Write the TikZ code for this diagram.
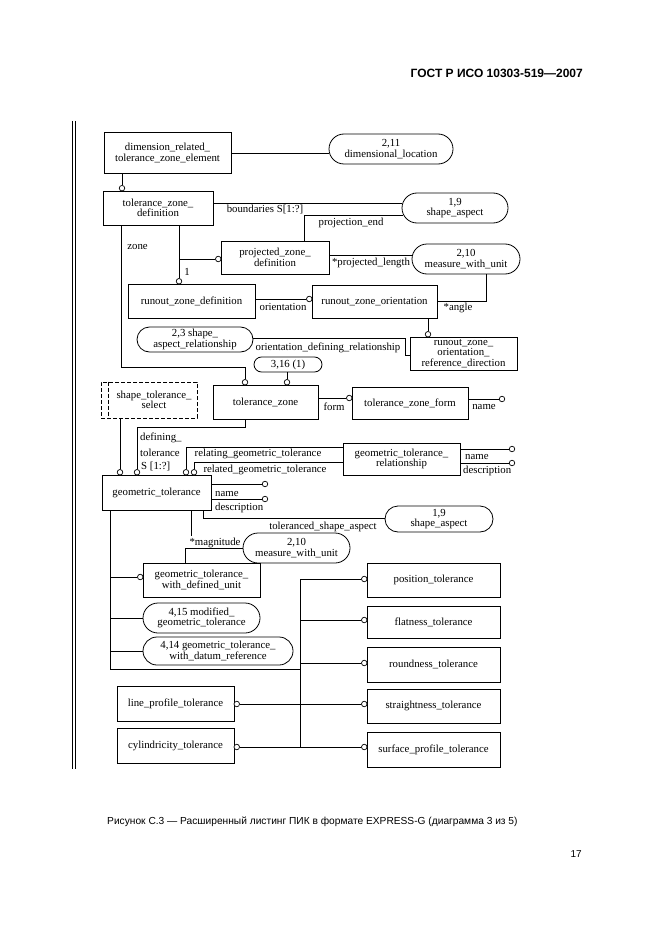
\documentclass[tikz,border=0pt]{standalone}
\usepackage{fontspec}
\setmainfont{Liberation Serif}
\newfontfamily\sansf{Liberation Sans}
\usetikzlibrary{shapes.misc,calc}
\newcommand\dg{\fontsize{10.8}{10.4}\selectfont}
\begin{document}
\begin{tikzpicture}[x=1pt,y=-1pt,
  ent/.style={draw, rectangle, inner sep=0pt, align=center, font=\dg, line width=0.8pt},
  refn/.style={draw, rounded rectangle, inner sep=0pt, align=center, font=\dg, line width=0.8pt},
  oc/.style={draw, circle, fill=white, inner sep=0pt, minimum size=5.5pt, line width=0.7pt},
  lbl/.style={inner sep=0pt, font=\dg},
  lnk/.style={line width=0.75pt},
  dsh/.style={dash pattern=on 4pt off 2pt, line width=0.8pt}]
\useasboundingbox (0,0) rectangle (661,936);
% frame
\draw[line width=0.8pt] (72.5,121) -- (72.5,769);
\draw[line width=0.8pt] (75.8,121) -- (75.8,769);
% header / caption
\node[anchor=east, font=\sansf\bfseries\fontsize{12}{14}\selectfont, inner sep=0pt] (hdr) at (583,73) {ГОСТ Р ИСО 10303-519—2007};
\node[anchor=west, font=\sansf\fontsize{10.2}{12}\selectfont, inner sep=0pt] (cap) at (107,822) {Рисунок С.3 — Расширенный листинг ПИК в формате EXPRESS-G (диаграмма 3 из 5)};
\node[anchor=east, font=\sansf\fontsize{10}{12}\selectfont, inner sep=0pt] (pg) at (582,854) {17};

% top
\node[ent, minimum width=127, minimum height=41] (dre) at (167.5,153) {dimension\_related\_\\tolerance\_zone\_element};
\node[refn, minimum width=124, minimum height=30] (dl) at (391,149) {2,11\\dimensional\_location};
\draw[lnk] (dre.east) -- (dre.east -| dl.west);
\node[oc] (o1) at (122,188.2) {};
\draw[lnk] (dre.south -| o1) -- (o1);

\node[ent, minimum width=110, minimum height=34] (tzd) at (158,208) {tolerance\_zone\_\\definition};
\node[refn, minimum width=106, minimum height=30] (sa1) at (455,208) {1,9\\shape\_aspect};
\draw[lnk] ([yshift=5pt]tzd.east) -- ([yshift=5pt,xshift=0.8pt]tzd.east -| sa1.west);
\node[lbl] (lb1) at (265,209.5) {boundaries S[1:?]};

\node[ent, minimum width=108, minimum height=33] (pzd) at (275,257.5) {projected\_zone\_\\definition};
\draw[lnk] ([xshift=29pt]pzd.north) |- ([yshift=-7pt,xshift=1.7pt]sa1.west);
\node[lbl] (lb2) at (351,223) {projection\_end};

\node[refn, minimum width=108, minimum height=30] (mwu1) at (466,259) {2,10\\measure\_with\_unit};
\draw[lnk] ([yshift=2.5pt]pzd.east) -- ([yshift=2.5pt,xshift=0.5pt]pzd.east -| mwu1.west);
\node[lbl] (lb3) at (371,262.5) {*projected\_length};

\node[ent, minimum width=127, minimum height=34] (rzd) at (191.5,301) {runout\_zone\_definition};
\node[oc] (o2) at (179,281.25) {};
\draw[lnk] (tzd.south -| o2) -- (o2);
\node[oc] (o3) at (218.25,259) {};
\draw[lnk] (o2 |- o3) -- (o3);
\node[lbl] (lb4) at (187,272) {1};
\node[lbl] (lb5) at (137.5,247) {zone};

\node[ent, minimum width=125, minimum height=33] (rzo) at (374.5,301.5) {runout\_zone\_orientation};
\node[oc] (o4) at (309.25,299) {};
\draw[lnk] (rzd.east |- o4) -- (o4);
\node[lbl] (lb6) at (283,306.5) {orientation};
\draw[lnk] ([xshift=20pt]mwu1.south) |- (rzo.east);
\node[lbl] (lb7) at (458,308) {*angle};

\node[ent, minimum width=107, minimum height=33] (rzord) at (463.5,353.5) {runout\_zone\_\\orientation\_\\reference\_direction};
\node[oc] (o5) at (428,334.25) {};
\draw[lnk] (rzo.south -| o5) -- (o5);

\node[refn, minimum width=116, minimum height=25] (sar) at (195,339.5) {2,3 shape\_\\aspect\_relationship};
\coordinate (k1) at (405,355);
\draw[lnk] ([yshift=1.5pt]sar.east) -| (k1) -- (k1 -| rzord.west);
\node[lbl] (lb8) at (328,348) {orientation\_defining\_relationship};

\node[refn, minimum width=68, minimum height=15] (z316) at (288,364.5) {3,16 (1)};
\node[oc] (o6) at (287,382.25) {};
\draw[lnk] (z316.south -| o6) -- (o6);

\node[ent, minimum width=105, minimum height=34] (tz) at (265.5,402) {tolerance\_zone};
\node[oc] (o7) at (245,382.25) {};
\coordinate (k2) at (121,367);
\draw[lnk] (tzd.south -| k2) -- (k2) -| (o7);

\node[ent, minimum width=116, minimum height=32] (tzf) at (410,403) {tolerance\_zone\_form};
\node[oc] (o8) at (349.25,398) {};
\draw[lnk] (tz.east |- o8) -- (o8);
\node[lbl] (lb9) at (334,406.5) {form};
\node[oc] (o9) at (502,399) {};
\draw[lnk] (tzf.east |- o9) -- (o9);
\node[lbl] (lb10) at (484,407.5) {name};

\node[draw, dsh, minimum width=96, minimum height=36] (sts) at (149,400) {};
\draw[dsh] ([xshift=8pt]sts.north west) -- ([xshift=8pt]sts.south west);
\node[lbl, align=center] (stst) at (154,400) {shape\_tolerance\_\\select};

% geometric tolerance
\node[ent, minimum width=109, minimum height=35] (gt) at (156.5,492.5) {geometric\_tolerance};
\node[oc] (o10) at (120,472.25) {};
\node[oc] (o11) at (137,472.25) {};
\node[oc] (o12) at (186,472.25) {};
\node[oc] (o13) at (194,472.25) {};
\draw[lnk] (sts.south -| o10) -- (o10);
\coordinate (k3) at (245,427);
\coordinate (k4) at (137,427);
\draw[lnk] (tz.south -| k3) -- (k3) -- (k4) -- (o11);
\node[lbl, anchor=west] (lb11) at (140,438) {defining\_};
\node[lbl, anchor=west] (lb12) at (140,452.5) {tolerance};
\node[lbl, anchor=west] (lb13) at (141,466) {S [1:?]};

\node[ent, minimum width=117, minimum height=32] (gtr) at (401.5,459) {geometric\_tolerance\_\\relationship};
\coordinate (k5) at (186,447);
\draw[lnk] (o12) -- (o12 |- k5) -- (k5 -| gtr.west);
\coordinate (k6) at (194,462);
\draw[lnk] (o13) -- (o13 |- k6) -- (k6 -| gtr.west);
\node[lbl] (lb14) at (258,454) {relating\_geometric\_tolerance};
\node[lbl] (lb15) at (265,469.5) {related\_geometric\_tolerance};
\node[oc] (o14) at (512,449) {};
\node[oc] (o15) at (512,463) {};
\draw[lnk] (gtr.east |- o14) -- (o14);
\draw[lnk] (gtr.east |- o15) -- (o15);
\node[lbl, anchor=west] (lb16) at (465,457.5) {name};
\node[lbl, anchor=west] (lb17) at (463,471) {description};

\node[oc] (o16) at (265,484) {};
\node[oc] (o17) at (265,499) {};
\draw[lnk] (gt.east |- o16) -- (o16);
\draw[lnk] (gt.east |- o17) -- (o17);
\node[lbl, anchor=west] (lb18) at (215,494.5) {name};
\node[lbl, anchor=west] (lb19) at (215,507.5) {description};

\node[refn, minimum width=108, minimum height=26] (sa2) at (439,519) {1,9\\shape\_aspect};
\coordinate (k7) at (203,518);
\draw[lnk] (gt.south -| k7) -- (k7) -- (k7 -| sa2.west);
\node[lbl] (lb20) at (323,526.5) {toleranced\_shape\_aspect};

\node[refn, minimum width=107, minimum height=30] (mwu2) at (296.5,548) {2,10\\measure\_with\_unit};
\node[ent, minimum width=117, minimum height=34] (gtwdu) at (201.5,580) {geometric\_tolerance\_\\with\_defined\_unit};
\coordinate (k8) at (185,548);
\draw[lnk] (gtwdu.north -| k8) -- (k8) -- (k8 -| mwu2.west);
\coordinate (k9) at (191,536);
\draw[lnk] (gt.south -| k9) -- (k9);
\node[lbl] (lb21) at (215,543) {*magnitude};

% subtype tree
\coordinate (b1) at (110,669);
\coordinate (b2) at (300,579);
\coordinate (b3) at (300,747);
\draw[lnk] (gt.south -| b1) -- (b1) -- (b1 -| b2);
\node[oc] (o18) at (140.25,577) {};
\draw[lnk] (b1 |- o18) -- (o18);
\node[refn, minimum width=117, minimum height=30] (mgt) at (201.5,618) {4,15 modified\_\\geometric\_tolerance};
\draw[lnk] (b1 |- mgt.west) -- (mgt.west);
\node[refn, minimum width=150, minimum height=28] (gtdr) at (218,651) {4,14 geometric\_tolerance\_\\with\_datum\_reference};
\draw[lnk] (b1 |- gtdr.west) -- (gtdr.west);

\node[ent, minimum width=133, minimum height=34] (pt) at (433.5,580) {position\_tolerance};
\node[ent, minimum width=133, minimum height=32] (ft) at (433.5,622) {flatness\_tolerance};
\node[ent, minimum width=133, minimum height=35] (rt) at (433.5,664.5) {roundness\_tolerance};
\node[ent, minimum width=133, minimum height=34] (st) at (433.5,706) {straightness\_tolerance};
\node[ent, minimum width=133, minimum height=35] (spt) at (433.5,749.5) {surface\_profile\_tolerance};
\node[oc] (o19) at (364.25,579) {};
\node[oc] (o20) at (364.25,620) {};
\node[oc] (o21) at (364.25,663) {};
\node[oc] (o22) at (364.25,704) {};
\node[oc] (o23) at (364.25,747) {};
\draw[lnk] (b2) -- (b3);
\draw[lnk] (b2) -- (o19);
\draw[lnk] (b2 |- o20) -- (o20);
\draw[lnk] (b2 |- o21) -- (o21);

\node[ent, minimum width=117, minimum height=35] (lpt) at (175.5,703.5) {line\_profile\_tolerance};
\node[ent, minimum width=117, minimum height=35] (ct) at (175.5,745.5) {cylindricity\_tolerance};
\node[oc] (o24) at (236.75,704) {};
\node[oc] (o25) at (236.75,747) {};
\draw[lnk] (o24) -- (o22);
\draw[lnk] (o25) -- (o23);
\end{tikzpicture}
\end{document}
